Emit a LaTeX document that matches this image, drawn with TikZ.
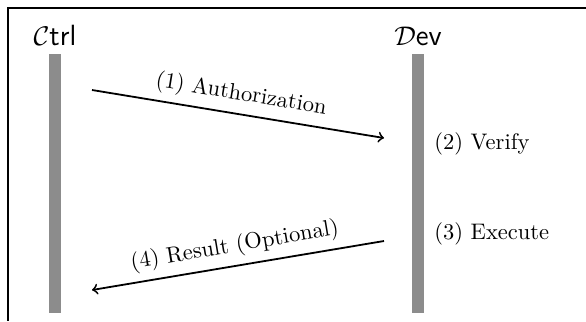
\documentclass[tikz,border=0pt]{standalone}
\usepackage{amsmath}
\begin{document}
\begin{tikzpicture}[x=0.4444pt, y=-0.4444pt,
  lifeline/.style={fill=black!45, draw=none, minimum width=5.3pt, inner sep=0pt, outer sep=0pt},
  actor/.style={font=\fontsize{13}{15}\selectfont\sffamily, anchor=base, inner sep=0pt},
  msg/.style={thick, ->},
  step label/.style={anchor=west, inner sep=0pt},
  frameline/.style={thick}]
  \useasboundingbox (0,0) rectangle (586,321);

  % frame (top and left edges)
  \coordinate (ftr) at (586,8);
  \coordinate (fc) at (8,8);
  \coordinate (fbl) at (8,321);
  \draw[frameline] (ftr) -- (fc) -- (fbl);

  % participants
  \node[actor] (ctrl) at (55,45) {$\mathcal{C}$trl};
  \node[actor] (dev) at (418,45) {$\mathcal{D}$ev};

  % lifelines
  \node[lifeline, minimum height=115pt, anchor=north] (ctrlbar) at (55,54) {};
  \node[lifeline, minimum height=115pt, anchor=north] (devbar) at (418,54) {};

  % message end points
  \coordinate (a1s) at (92,90);
  \coordinate (a1e) at (384,138);
  \coordinate (a4s) at (384,241);
  \coordinate (a4e) at (92,290);

  \draw[msg] (a1s) -- node[midway, above, sloped] (m1) {(1) Authorization} (a1e);
  \draw[msg] (a4s) -- node[midway, above, sloped] (m4) {(4) Result (Optional)} (a4e);

  % local steps on the device
  \node[step label] (s2) at (434,144) {(2) Verify};
  \node[step label] (s3) at (434,234) {(3) Execute};
\end{tikzpicture}
\end{document}
